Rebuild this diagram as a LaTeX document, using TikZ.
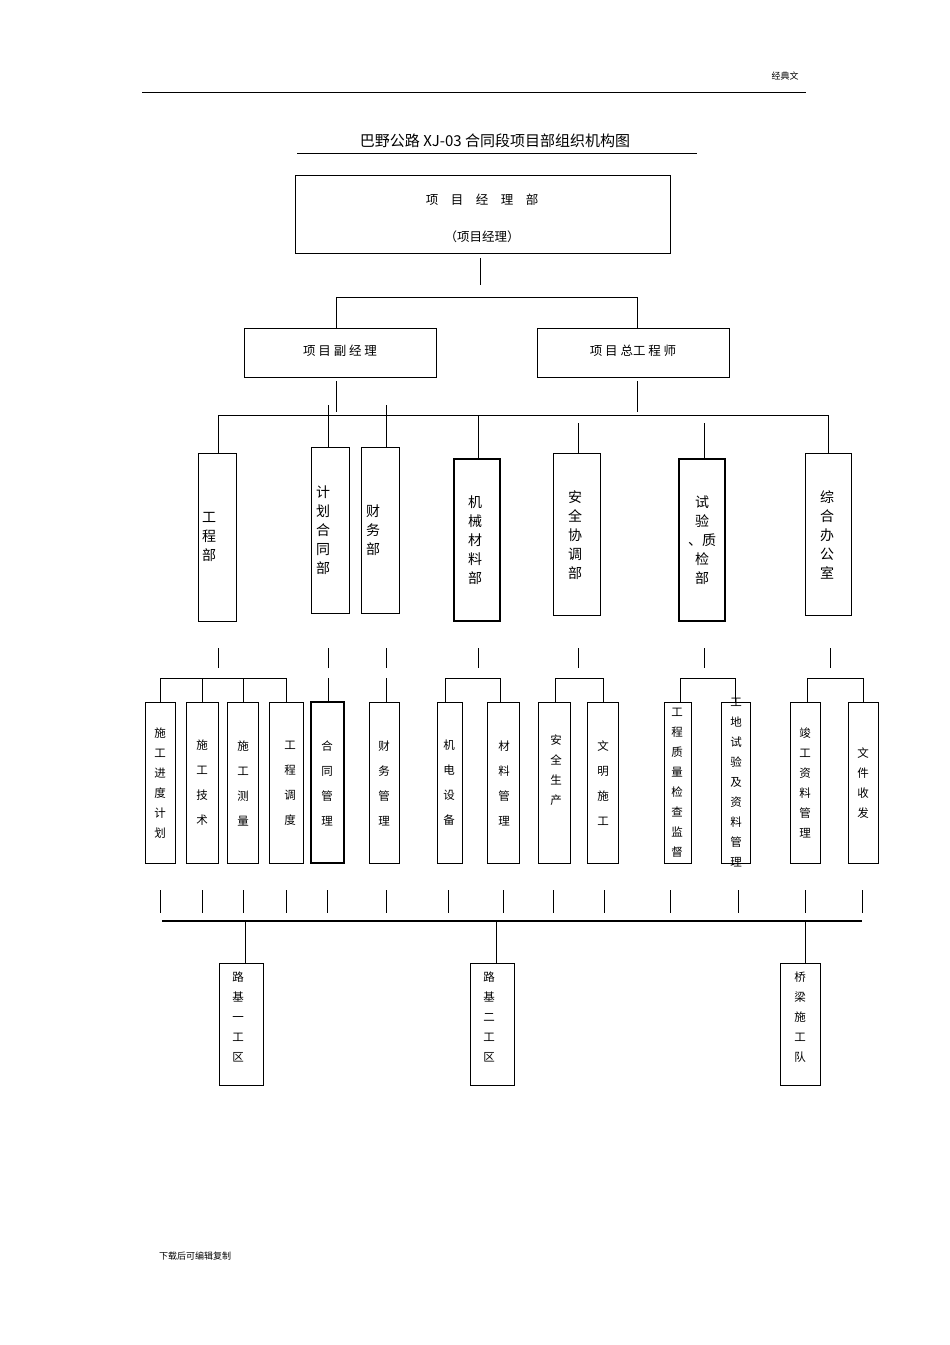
\documentclass[tikz,border=0pt]{standalone}
\usepackage{fontspec}
\newfontfamily\cjk{Noto Sans CJK SC}
\begin{document}
\begin{tikzpicture}[x=1pt,y=-1pt,
  bx/.style={draw,line width=0.8pt,inner sep=0pt},
  ln/.style={line width=0.7pt},
  vt/.style={align=center,font=\cjk\fontsize{14}{19}\selectfont},
  vs/.style={align=center,font=\cjk\fontsize{11.5}{25}\selectfont},
  vw/.style={align=center,font=\cjk\fontsize{11.5}{20}\selectfont}]
\useasboundingbox (0,0) rectangle (950,1345);
\node[font=\cjk\fontsize{9}{9}\selectfont] (hd) at (785,76) {经典文};
\draw[ln] (142,92) -- (806,92);
\node[font=\cjk\fontsize{15}{15}\selectfont] (ti) at (495,141) {巴野公路 XJ-03 合同段项目部组织机构图};
\draw[ln] (297,153) -- (697,153);
\node[font=\cjk\fontsize{9}{9}\selectfont] (ft) at (195,1256) {下载后可编辑复制};
% top
\draw[bx] (295,175) rectangle (670,253);
\node[font=\cjk\fontsize{12.5}{12.5}\selectfont] (t1) at (482,200) {项\quad 目\quad 经\quad 理\quad 部};
\node[font=\cjk\fontsize{12.5}{12.5}\selectfont] (t2) at (482,237) {（项目经理）};
\draw[ln] (480,258) -- (480,285);
\draw[ln] (336,328) -- (336,297) -- (637,297) -- (637,328);
\draw[bx] (244,328) rectangle (436,377);
\node[font=\cjk\fontsize{12.5}{12.5}\selectfont] (a1) at (340,351) {项\ 目\ 副\ 经\ 理};
\draw[bx] (537,328) rectangle (729,377);
\node[font=\cjk\fontsize{12.5}{12.5}\selectfont] (a2) at (633,351) {项\ 目\ 总工\ 程\ 师};
\draw[ln] (336,381) -- (336,412);
\draw[ln] (637,381) -- (637,412);
\draw[ln] (218,453) -- (218,415) -- (828,415) -- (828,453);
\draw[ln] (328,405) -- (328,447);
\draw[ln] (386,405) -- (386,447);
\draw[ln] (478,415) -- (478,459);
\draw[ln] (578,423) -- (578,453);
\draw[ln] (704,423) -- (704,459);
% depts
\draw[bx] (198,453) rectangle (236,621); \node[vt] (d1) at (209,537) {工\\程\\部};
\draw[bx] (311,447) rectangle (349,613); \node[vt] (d2) at (323,530) {计\\划\\合\\同\\部};
\draw[bx] (361,447) rectangle (399,613); \node[vt] (d3) at (373,530) {财\\务\\部};
\draw[bx,line width=1.4pt] (454,459) rectangle (500,621); \node[vt] (d4) at (475,540) {机\\械\\材\\料\\部};
\draw[bx] (553,453) rectangle (600,615); \node[vt] (d5) at (575,535) {安\\全\\协\\调\\部};
\draw[bx,line width=1.4pt] (679,459) rectangle (725,621); \node[vt] (d6) at (702,540) {试\\验\\、质\\检\\部};
\draw[bx] (805,453) rectangle (851,615); \node[vt] (d7) at (827,535) {综\\合\\办\\公\\室};
% ticks
\foreach \x in {218,328,386,478,578,704,830} \draw[ln] (\x,648) -- (\x,668);
\draw[ln] (160,702) -- (160,678) -- (286,678) -- (286,702);
\draw[ln] (202,678) -- (202,702); \draw[ln] (243,678) -- (243,702);
\draw[ln] (328,678) -- (328,702); \draw[ln] (386,678) -- (386,702);
\draw[ln] (445,702) -- (445,678) -- (500,678) -- (500,702);
\draw[ln] (555,702) -- (555,678) -- (603,678) -- (603,702);
\draw[ln] (680,702) -- (680,678) -- (735,678) -- (735,702);
\draw[ln] (807,702) -- (807,678) -- (863,678) -- (863,702);
% sub boxes
\draw[bx] (145,702) rectangle (175,863); \node[vw] (s1) at (160,783) {施\\工\\进\\度\\计\\划};
\draw[bx] (186,702) rectangle (218,863); \node[vs] (s2) at (202,783) {施\\工\\技\\术};
\draw[bx] (227,702) rectangle (258,863); \node[vs] (s3) at (243,783) {施\\工\\测\\量};
\draw[bx] (269,702) rectangle (303,863); \node[vs] (s4) at (290,783) {工\\程\\调\\度};
\draw[bx,line width=1.2pt] (311,702) rectangle (344,863); \node[vs] (s5) at (327,783) {合\\同\\管\\理};
\draw[bx] (369,702) rectangle (399,863); \node[vs] (s6) at (384,783) {财\\务\\管\\理};
\draw[bx] (437,702) rectangle (462,863); \node[vs] (s7) at (449,783) {机\\电\\设\\备};
\draw[bx] (487,702) rectangle (519,863); \node[vs] (s8) at (504,783) {材\\料\\管\\理};
\draw[bx] (538,702) rectangle (570,863); \node[vw] (s9) at (556,770) {安\\全\\生\\产};
\draw[bx] (587,702) rectangle (618,863); \node[vs] (s10) at (603,783) {文\\明\\施\\工};
\draw[bx] (664,702) rectangle (691,863); \node[vw] (s11) at (677,783) {工\\程\\质\\量\\检\\查\\监\\督};
\draw[bx] (721,702) rectangle (750,863); \node[vw] (s12) at (736,783) {工\\地\\试\\验\\及\\资\\料\\管\\理};
\draw[bx] (790,702) rectangle (820,863); \node[vw] (s13) at (805,783) {竣\\工\\资\\料\\管\\理};
\draw[bx] (848,702) rectangle (878,863); \node[vw] (s14) at (863,783) {文\\件\\收\\发};
\foreach \x in {160,202,243,286,327,386,448,503,553,604,670,738,805,862} \draw[ln] (\x,890) -- (\x,913);
\draw[line width=1.5pt] (162,921) -- (862,921);
\foreach \x in {245,496,805} \draw[ln] (\x,921) -- (\x,963);
\draw[bx] (219,963) rectangle (263,1085); \node[vw] (w1) at (238,1017) {路\\基\\一\\工\\区};
\draw[bx] (470,963) rectangle (514,1085); \node[vw] (w2) at (489,1017) {路\\基\\二\\工\\区};
\draw[bx] (780,963) rectangle (820,1085); \node[vw] (w3) at (800,1017) {桥\\梁\\施\\工\\队};
\end{tikzpicture}
\end{document}
